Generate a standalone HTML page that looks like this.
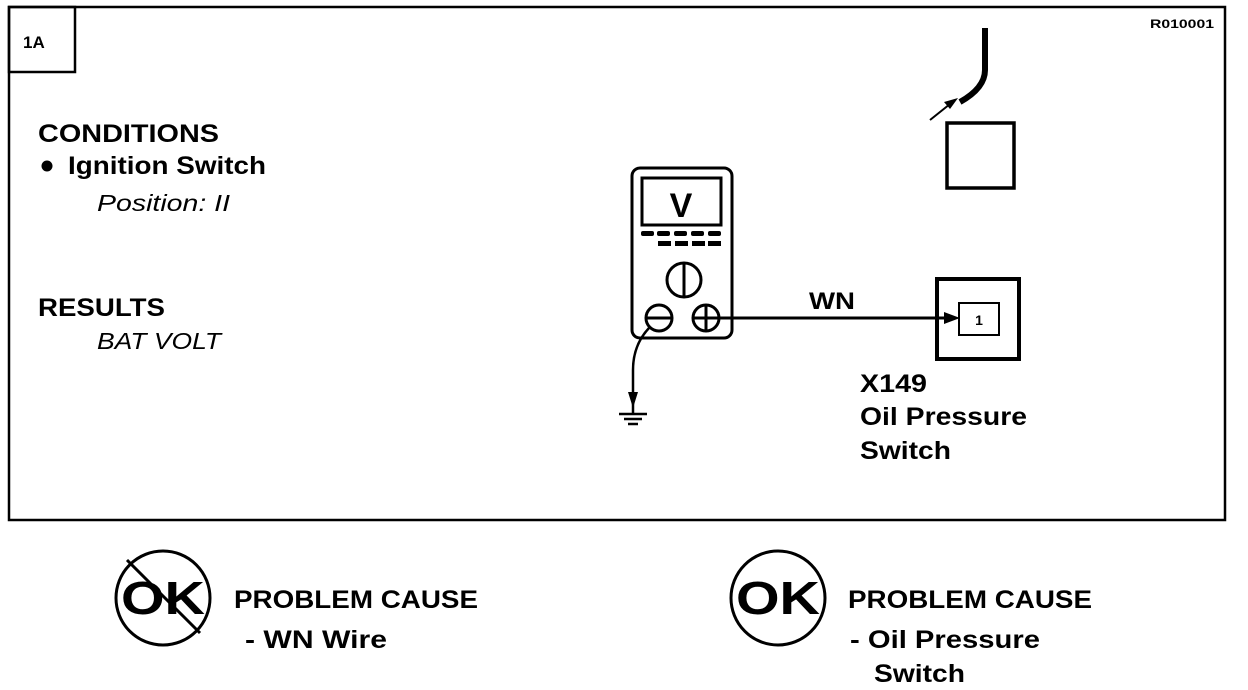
<!DOCTYPE html>
<html><head><meta charset="utf-8"><style>
html,body{margin:0;padding:0;background:#fff;}
svg{display:block;}
text{font-family:"Liberation Sans",Arial,sans-serif;fill:#000;}
.b{font-weight:bold;}
.i{font-style:italic;}
</style></head><body>
<svg width="1248" height="690" viewBox="0 0 1248 690" xmlns="http://www.w3.org/2000/svg">
<rect x="9" y="7" width="1216" height="513" fill="none" stroke="#000" stroke-width="2.5"/>
<rect x="9" y="7" width="66" height="65" fill="none" stroke="#000" stroke-width="2.5"/>
<text x="23" y="48" class="b" font-size="17">1A</text>
<text x="1150" y="28" class="b" font-size="12" textLength="64" lengthAdjust="spacingAndGlyphs">R010001</text>

<text x="38" y="142" class="b" font-size="25" textLength="181" lengthAdjust="spacingAndGlyphs">CONDITIONS</text>
<circle cx="47" cy="166" r="5.5" fill="#000"/>
<text x="68" y="174" class="b" font-size="25" textLength="198" lengthAdjust="spacingAndGlyphs">Ignition Switch</text>
<text x="97" y="211" class="i" font-size="23" textLength="133" lengthAdjust="spacingAndGlyphs">Position: II</text>
<text x="38" y="316" class="b" font-size="25" textLength="127" lengthAdjust="spacingAndGlyphs">RESULTS</text>
<text x="97" y="349" class="i" font-size="23" textLength="124" lengthAdjust="spacingAndGlyphs">BAT VOLT</text>

<!-- meter -->
<rect x="632" y="168" width="100" height="170" rx="8" fill="none" stroke="#000" stroke-width="3"/>
<rect x="642" y="178" width="79" height="47" fill="none" stroke="#000" stroke-width="3"/>
<text x="681" y="217" class="b" font-size="34" text-anchor="middle">V</text>
<g fill="#000">
<rect x="641" y="231" width="13" height="5" rx="2"/><rect x="657" y="231" width="13" height="5" rx="2"/><rect x="674" y="231" width="13" height="5" rx="2"/><rect x="691" y="231" width="13" height="5" rx="2"/><rect x="708" y="231" width="13" height="5" rx="2"/>
<rect x="658" y="241" width="13" height="5"/><rect x="675" y="241" width="13" height="5"/><rect x="692" y="241" width="13" height="5"/><rect x="708" y="241" width="13" height="5"/>
</g>
<circle cx="684" cy="280" r="17" fill="none" stroke="#000" stroke-width="3"/>
<line x1="684" y1="264" x2="684" y2="296" stroke="#000" stroke-width="3"/>
<circle cx="659" cy="318" r="13" fill="none" stroke="#000" stroke-width="3"/>
<line x1="647" y1="318" x2="671" y2="318" stroke="#000" stroke-width="3"/>
<circle cx="706" cy="318" r="13" fill="none" stroke="#000" stroke-width="3"/>
<line x1="694" y1="318" x2="718" y2="318" stroke="#000" stroke-width="3"/>
<line x1="706" y1="306" x2="706" y2="330" stroke="#000" stroke-width="3"/>
<!-- wire -->
<line x1="718" y1="318" x2="950" y2="318" stroke="#000" stroke-width="3"/>
<polygon points="960,318 944,312 944,324" fill="#000"/>
<text x="832" y="309" class="b" font-size="24" text-anchor="middle" textLength="46" lengthAdjust="spacingAndGlyphs">WN</text>
<!-- ground -->
<path d="M649,328 Q633,345 633,370 L633,398" fill="none" stroke="#000" stroke-width="2.5"/>
<polygon points="633,408 628,392 638,392" fill="#000"/>
<line x1="633" y1="398" x2="633" y2="414" stroke="#000" stroke-width="2.5"/>
<line x1="619" y1="414" x2="647" y2="414" stroke="#000" stroke-width="2.5"/>
<line x1="624" y1="419" x2="642" y2="419" stroke="#000" stroke-width="2.5"/>
<line x1="628" y1="424" x2="638" y2="424" stroke="#000" stroke-width="2.5"/>
<!-- connector -->
<rect x="937" y="279" width="82" height="80" fill="none" stroke="#000" stroke-width="4"/>
<rect x="959" y="303" width="40" height="32" fill="none" stroke="#000" stroke-width="2"/>
<text x="979" y="325" class="b" font-size="14" text-anchor="middle">1</text>
<text x="860" y="392" class="b" font-size="25" textLength="67" lengthAdjust="spacingAndGlyphs">X149</text>
<text x="860" y="425" class="b" font-size="25" textLength="167" lengthAdjust="spacingAndGlyphs">Oil Pressure</text>
<text x="860" y="459" class="b" font-size="25" textLength="91" lengthAdjust="spacingAndGlyphs">Switch</text>
<!-- upper box & cable -->
<rect x="947" y="123" width="67" height="65" fill="none" stroke="#000" stroke-width="3.5"/>
<path d="M985,28 L985,70 Q985,88 960,102" fill="none" stroke="#000" stroke-width="6"/>
<line x1="930" y1="120" x2="950" y2="104" stroke="#000" stroke-width="2"/>
<polygon points="958,98 944,102 950,109" fill="#000"/>
<!-- bottom left -->
<circle cx="163" cy="598" r="47" fill="none" stroke="#000" stroke-width="3"/>
<line x1="127" y1="560" x2="200" y2="633" stroke="#000" stroke-width="3"/>
<text x="163" y="614" class="b" font-size="46" text-anchor="middle" textLength="84" lengthAdjust="spacingAndGlyphs">OK</text>
<text x="234" y="608" class="b" font-size="25" textLength="244" lengthAdjust="spacingAndGlyphs">PROBLEM CAUSE</text>
<text x="245" y="648" class="b" font-size="25" textLength="142" lengthAdjust="spacingAndGlyphs">-  WN  Wire</text>
<!-- bottom right -->
<circle cx="778" cy="598" r="47" fill="none" stroke="#000" stroke-width="3"/>
<text x="778" y="614" class="b" font-size="46" text-anchor="middle" textLength="84" lengthAdjust="spacingAndGlyphs">OK</text>
<text x="848" y="608" class="b" font-size="25" textLength="244" lengthAdjust="spacingAndGlyphs">PROBLEM CAUSE</text>
<text x="850" y="648" class="b" font-size="25" textLength="190" lengthAdjust="spacingAndGlyphs">-  Oil Pressure</text>
<text x="874" y="682" class="b" font-size="25" textLength="91" lengthAdjust="spacingAndGlyphs">Switch</text>
</svg>
</body></html>
